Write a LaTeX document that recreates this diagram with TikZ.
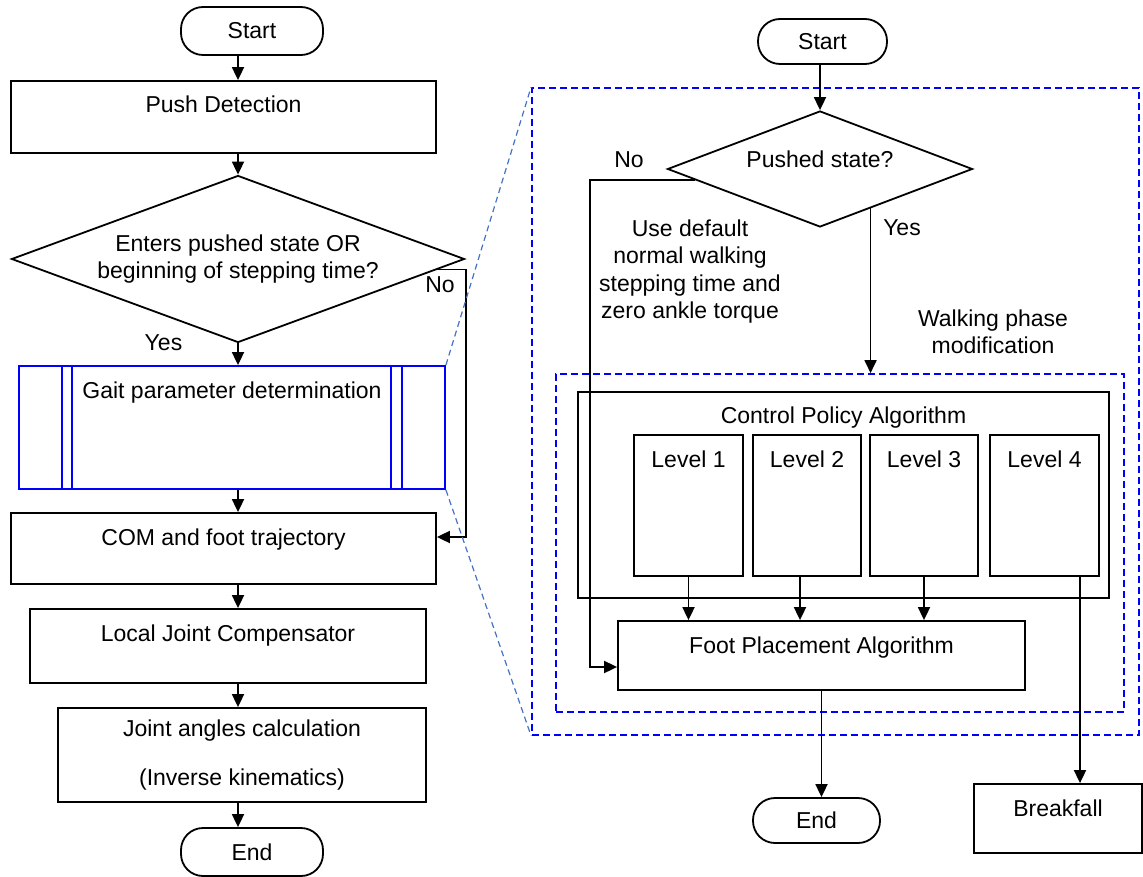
\documentclass[tikz,border=0pt]{standalone}
\usepackage{fontspec}
\setmainfont{Liberation Sans}
\usetikzlibrary{shapes.geometric, arrows.meta, calc}

\definecolor{zoomblue}{RGB}{68,114,196}

\tikzset{
	flow/.style={-{Triangle[length=13pt,width=12pt]}, line width=1.8pt},
	terminal/.style={draw, line width=1.8pt, rounded corners=22pt, inner sep=0pt},
	decision/.style={draw, diamond, line width=1.8pt, inner sep=0pt},
	process/.style={draw, rectangle, line width=1.8pt, inner sep=0pt},
	toptext/.style={text height=16pt, text depth=#1},
	frame/.style={draw=blue, line width=1.8pt, dash pattern=on 7pt off 4pt},
	zoomline/.style={zoomblue, line width=1.2pt, dash pattern=on 6pt off 4pt}
}

\begin{document}
\begin{tikzpicture}[x=1pt, y=-1pt, font=\fontsize{23pt}{27.5pt}\selectfont]
	\useasboundingbox (0,0) rectangle (1143,877);
	\coordinate (spine) at (238,0);

	% left flow
	\node[terminal, minimum width=142pt, minimum height=48pt] (startL) at (252,31) {Start};
	\node[process, toptext=24.6pt, minimum width=425pt, minimum height=72pt] (push) at (223.5,117) {Push Detection};
	\node[decision, aspect=2.7, align=center, minimum width=453pt, minimum height=167pt] (decL) at (238,259) {Enters pushed state OR\\beginning of stepping time?};
	\node[process, draw=blue, toptext=74.6pt, minimum width=426pt, minimum height=123pt] (gait) at (232,427.5) {Gait parameter determination};
	\foreach \dx in {44,54,373,384}
		\draw[blue, line width=1.8pt] ($(gait.north west)+(\dx,0)$) -- ($(gait.south west)+(\dx,0)$);
	\node[process, toptext=21.6pt, minimum width=425pt, minimum height=71pt] (com) at (223.5,548.5) {COM and foot trajectory};
	\node[process, toptext=25pt, minimum width=396pt, minimum height=74pt] (loc) at (228,646) {Local Joint Compensator};
	\node[process, align=center, minimum width=368pt, minimum height=94pt] (joint) at (242,755) {Joint angles calculation\\[22pt](Inverse kinematics)};
	\node[terminal, minimum width=142pt, minimum height=48pt] (endL) at (252,852) {End};
	\node (noL) at (440,284.5) {No};
	\node (yesL) at (163.5,343) {Yes};

	\draw[flow] (startL.south -| spine) -- (push.north -| spine);
	\draw[flow] (push.south -| spine) -- (decL.north);
	\draw[flow] (decL.south) -- (gait.north -| spine);
	\draw[flow] (gait.south -| spine) -- (com.north -| spine);
	\draw[flow] (com.south -| spine) -- (loc.north -| spine);
	\draw[flow] (loc.south -| spine) -- (joint.north -| spine);
	\draw[flow] (joint.south -| spine) -- (endL.north -| spine);
	\draw[flow] (decL.-3.6) -| ($(com.east)+(29,-11.5)$) -- ($(com.east)+(0,-11.5)$);

	% right flow
	\node[frame, minimum width=607pt, minimum height=647pt] (outer) at (835.5,411.5) {};
	\node[frame, minimum width=568pt, minimum height=338pt] (inner) at (840,543) {};
	\draw[zoomline] (gait.north east) -- (outer.north west);
	\draw[zoomline] (gait.south east) -- (outer.south west);

	\node[terminal, minimum width=129pt, minimum height=45pt] (startR) at (822.5,41.5) {Start};
	\node[decision, aspect=2.6, toptext=19.6pt, minimum width=305pt, minimum height=116pt] (decR) at (820,169) {Pushed state?};
	\node (noR) at (629,159.5) {No};
	\node (yesR) at (902,228) {Yes};
	\node[align=center] (deflt) at (690,271.6) {Use default\\normal walking\\stepping time and\\zero ankle torque};
	\node[align=center] (wpm) at (993,332) {Walking phase\\modification};
	\node[process, toptext=159.6pt, minimum width=531pt, minimum height=206pt] (cpa) at (843.5,495) {Control Policy Algorithm};
	\foreach \i/\x in {1/688.5, 2/807, 3/924, 4/1044.5}
		\node[process, toptext=92.6pt, minimum width=108.5pt, minimum height=141pt] (lev\i) at (\x,505.5) {Level \i};
	\node[process, toptext=20.6pt, minimum width=407pt, minimum height=69pt] (foot) at (821.5,655.5) {Foot Placement Algorithm};
	\node[terminal, minimum width=127pt, minimum height=45pt] (endR) at (816.5,820.5) {End};
	\node[process, toptext=19.6pt, minimum width=168pt, minimum height=69pt] (brk) at (1058,818.5) {Breakfall};

	\coordinate (l2out) at ($(lev2.south)+(-7,0)$);
	\coordinate (l4out) at ($(lev4.south)+(35.5,0)$);
	\draw[flow] (startR.south -| decR.north) -- (decR.north);
	\draw[flow] (decR.185) -| ($(foot.west)+(-27,11.5)$) -- ($(foot.west)+(0,11.5)$);
	\draw[flow] (decR.-38.4) -- (decR.-38.4 |- inner.north);
	\draw[flow] (lev1.south) -- (lev1.south |- foot.north);
	\draw[flow] (l2out) -- (l2out |- foot.north);
	\draw[flow] (lev3.south) -- (lev3.south |- foot.north);
	\draw[flow] (l4out) -- (l4out |- brk.north);
	\draw[flow] (foot.south) -- (foot.south |- endR.north);
\end{tikzpicture}
\end{document}
